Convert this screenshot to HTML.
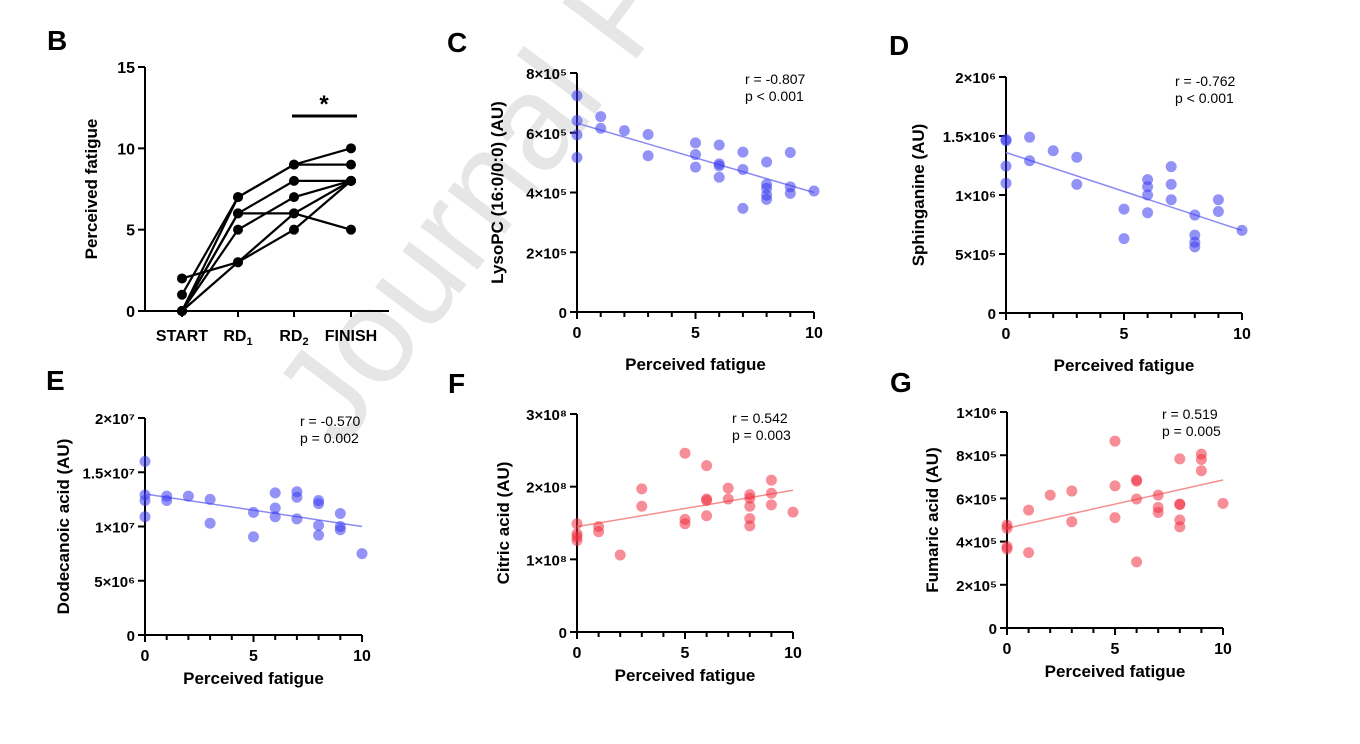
<!DOCTYPE html>
<html><head><meta charset="utf-8"><style>
html,body{margin:0;padding:0;background:#fff;}
svg{display:block;font-family:"Liberation Sans",Arial,sans-serif;}
</style></head><body>
<svg id="fig" width="1360" height="744" viewBox="0 0 1360 744">
<text x="341" y="451" transform="rotate(-53 341 451)" font-size="135" fill="#e6e6e6">Journal Pre-proof</text>
</svg>
<script>
// ---- Panel B data ----
const bCategories = ["START","RD1","RD2","FINISH"];
const bSubjA = [1,7,9,10];
const bSubjB = [0,7,9,9];
const bSubjC = [0,6,8,8];
const bSubjD = [0,6,6,5];
const bSubjE = [0,5,7,8];
const bSubjF = [2,3,6,8];
const bSubjG = [0,3,5,8];
const bTicks = [0,5,10,15];

// ---- Panel C data ----
const cX = [0,0,0,0,1,1,2,3,3,5,5,5,6,6,6,6,7,7,7,8,8,8,8,8,9,9,9,10];
const cY = [7.24,6.41,5.93,5.17,6.54,6.15,6.07,5.94,5.23,5.66,5.27,4.85,5.59,4.96,4.89,4.51,5.35,4.77,3.47,5.02,4.27,4.14,3.91,3.77,5.34,4.19,3.97,4.05];
const cFit = [6.32,4.0];
const cTicks = ["0","2×10⁵","4×10⁵","6×10⁵","8×10⁵"];
// ---- Panel D ----
const dX = [0,0,0,0,1,1,2,3,3,5,5,6,6,6,6,7,7,7,8,8,8,8,9,9,10];
const dY = [1.47,1.46,1.245,1.10,1.49,1.29,1.375,1.32,1.09,0.88,0.63,1.13,1.07,1.0,0.85,1.24,1.09,0.96,0.83,0.66,0.60,0.56,0.96,0.86,0.70];
const dFit = [1.36,0.70];
const dTicks = ["0","5×10⁵","1×10⁶","1.5×10⁶","2×10⁶"];
// ---- Panel E ----
const eX = [0,0,0,0,1,1,2,3,3,5,5,6,6,6,7,7,7,8,8,8,8,9,9,9,10];
const eY = [1.60,1.29,1.24,1.09,1.28,1.24,1.28,1.25,1.03,1.13,0.905,1.31,1.17,1.09,1.32,1.27,1.07,1.24,1.21,1.01,0.92,1.12,1.0,0.97,0.75];
const eFit = [1.30,1.0];
const eTicks = ["0","5×10⁶","1×10⁷","1.5×10⁷","2×10⁷"];
// ---- Panel F ----
const fX = [0,0,0,0,1,1,2,3,3,5,5,5,6,6,6,6,7,7,8,8,8,8,8,9,9,9,10];
const fY = [1.49,1.35,1.31,1.26,1.45,1.38,1.06,1.97,1.73,2.46,1.55,1.49,2.29,1.83,1.81,1.60,1.98,1.83,1.89,1.84,1.73,1.56,1.46,2.09,1.91,1.75,1.65];
const fFit = [1.45,1.95];
const fTicks = ["0","1×10⁸","2×10⁸","3×10⁸"];
// ---- Panel G ----
const gX = [0,0,0,0,1,1,2,3,3,5,5,5,6,6,6,6,7,7,7,8,8,8,8,8,9,9,9,10];
const gY = [4.77,4.62,3.77,3.66,5.46,3.49,6.15,6.34,4.92,8.65,6.58,5.11,6.85,6.80,5.97,3.06,6.15,5.58,5.35,7.83,5.74,5.71,5.0,4.68,8.05,7.8,7.28,5.77];
const gFit = [4.62,6.85];
const gTicks = ["0","2×10⁵","4×10⁵","6×10⁵","8×10⁵","1×10⁶"];

const NS="http://www.w3.org/2000/svg";
const fig=document.getElementById('fig');
function mk(tag,attrs,parent){const e=document.createElementNS(NS,tag);for(const k in attrs)e.setAttribute(k,attrs[k]);(parent||fig).appendChild(e);return e;}
function txt(s,attrs,parent){const e=mk('text',attrs,parent);e.textContent=s;return e;}

// Panel B
(function(){
  const g=mk('g',{});
  
  
  const x0=145,yb=311,yt=67;
  const catX=[182,238,294,351];
  const ys=v=>yb-(v/15)*(yb-yt);
  const l=txt('B',{x:47,y:50,'font-size':28,'font-weight':'bold'},g);
  
  mk('line',{x1:x0,y1:yt,x2:x0,y2:yb,stroke:'#000','stroke-width':2},g);
  mk('line',{x1:x0,y1:yb,x2:389,y2:yb,stroke:'#000','stroke-width':2},g);
  bTicks.forEach(t=>{mk('line',{x1:x0-7,y1:ys(t),x2:x0,y2:ys(t),stroke:'#000','stroke-width':2},g);
    const tl=txt(String(t),{x:x0-10,y:ys(t)+6,'font-size':16,'font-weight':'bold','text-anchor':'end'},g);
    });
  const labs=[['START',''],['RD','1'],['RD','2'],['FINISH','']];
  catX.forEach((cx,i)=>{mk('line',{x1:cx,y1:yb,x2:cx,y2:yb+6,stroke:'#000','stroke-width':2},g);
    const t=txt('',{x:cx,y:yb+30,'font-size':16,'font-weight':'bold','text-anchor':'middle'},g);
    
    const s1=document.createElementNS(NS,'tspan');s1.textContent=labs[i][0];t.appendChild(s1);
    if(labs[i][1]){const s2=document.createElementNS(NS,'tspan');s2.setAttribute('font-size',11);s2.setAttribute('dy',4);s2.textContent=labs[i][1];t.appendChild(s2);}
  });
  const yt2=txt('Perceived fatigue',{transform:'translate(97,189) rotate(-90)','font-size':17,'font-weight':'bold','text-anchor':'middle'},g);
  
  [bSubjA,bSubjB,bSubjC,bSubjD,bSubjE,bSubjF,bSubjG].forEach(s=>{
    const pl=mk('polyline',{points:s.map((v,i)=>catX[i]+','+ys(v)).join(' '),fill:'none',stroke:'#000','stroke-width':2.2},g);
    
    s.forEach((v,i)=>{const c=mk('circle',{cx:catX[i],cy:ys(v),r:5,fill:'#000'},g);
      });
  });
  const sb=mk('line',{x1:292,y1:116,x2:357,y2:116,stroke:'#000','stroke-width':3},g);
  
  const st=txt('*',{x:324,y:112,'font-size':24,'font-weight':'bold','text-anchor':'middle'},g);
  
})();

function scatter(o){
  const g=mk('g',{});
  
  
  const xs=v=>o.x0+(v/10)*(o.x10-o.x0);
  const n=o.ticks.length-1;
  const ys=v=>o.yb-(v/o.ymax)*(o.yb-o.yt);
  const pl=txt(o.label,{x:o.lx,y:o.ly,'font-size':28,'font-weight':'bold'},g);
  
  mk('line',{x1:o.x0,y1:o.yt,x2:o.x0,y2:o.yb+7,stroke:'#000','stroke-width':2},g);
  mk('line',{x1:o.x0-7,y1:o.yb,x2:o.x10,y2:o.yb,stroke:'#000','stroke-width':2},g);
  o.ticks.forEach((t,i)=>{const yy=o.yb-i/n*(o.yb-o.yt);
    mk('line',{x1:o.x0-7,y1:yy,x2:o.x0,y2:yy,stroke:'#000','stroke-width':2},g);
    const tl=txt(t,{x:o.x0-10,y:yy+6,'font-size':15,'font-weight':'bold','text-anchor':'end'},g);
    });
  for(let i=0;i<=10;i++){mk('line',{x1:xs(i),y1:o.yb,x2:xs(i),y2:o.yb+(i%5?5:7),stroke:'#000','stroke-width':2},g);}
  [0,5,10].forEach(v=>{const tl=txt(String(v),{x:xs(v),y:o.yb+26,'font-size':16,'font-weight':'bold','text-anchor':'middle'},g);
    });
  const xt=txt('Perceived fatigue',{x:(o.x0+o.x10)/2,y:o.xty,'font-size':17,'font-weight':'bold','text-anchor':'middle'},g);
  
  const yt=txt(o.ytitle,{transform:`translate(${o.ytx},${(o.yt+o.yb)/2}) rotate(-90)`,'font-size':17,'font-weight':'bold','text-anchor':'middle'},g);
  
  const fl=mk('line',{x1:xs(0),y1:ys(o.fit[0]),x2:xs(10),y2:ys(o.fit[1]),stroke:o.line,'stroke-width':1.5},g);
  
  o.xd.forEach((v,i)=>{const c=mk('circle',{cx:xs(v),cy:ys(o.yd[i]),r:5.5,fill:o.col,'fill-opacity':0.55},g);
    });
  const r1=txt(o.r,{x:o.rx,y:o.ry,'font-size':14},g);
  
  const p1=txt(o.p,{x:o.rx,y:o.ry+17,'font-size':14},g);
  
}
const BLUE='#3a3af0',RED='#f03040';
scatter({name:'panel-c',label:'C',lx:447,ly:52,x0:577,x10:814,yt:73,yb:312,ymax:8,ticks:cTicks,xd:cX,yd:cY,fit:cFit,col:BLUE,line:'#8a8af5',ytitle:'LysoPC (16:0/0:0) (AU)',ytx:503,xty:370,r:'r = -0.807',p:'p < 0.001',rx:745,ry:84});
scatter({name:'panel-d',label:'D',lx:889,ly:55,x0:1006,x10:1242,yt:77,yb:313,ymax:2,ticks:dTicks,xd:dX,yd:dY,fit:dFit,col:BLUE,line:'#8a8af5',ytitle:'Sphinganine (AU)',ytx:924,xty:371,r:'r = -0.762',p:'p < 0.001',rx:1175,ry:86});
scatter({name:'panel-e',label:'E',lx:46,ly:390,x0:145,x10:362,yt:418,yb:635,ymax:2,ticks:eTicks,xd:eX,yd:eY,fit:eFit,col:BLUE,line:'#8a8af5',ytitle:'Dodecanoic acid (AU)',ytx:69,xty:684,r:'r = -0.570',p:'p = 0.002',rx:300,ry:426});
scatter({name:'panel-f',label:'F',lx:448,ly:393,x0:577,x10:793,yt:414,yb:632,ymax:3,ticks:fTicks,xd:fX,yd:fY,fit:fFit,col:RED,line:'#f59090',ytitle:'Citric acid (AU)',ytx:509,xty:681,r:'r = 0.542',p:'p = 0.003',rx:732,ry:423});
scatter({name:'panel-g',label:'G',lx:890,ly:392,x0:1007,x10:1223,yt:412,yb:628,ymax:10,ticks:gTicks,xd:gX,yd:gY,fit:gFit,col:RED,line:'#f59090',ytitle:'Fumaric acid (AU)',ytx:938,xty:677,r:'r = 0.519',p:'p = 0.005',rx:1162,ry:419});
</script>
</body></html>
